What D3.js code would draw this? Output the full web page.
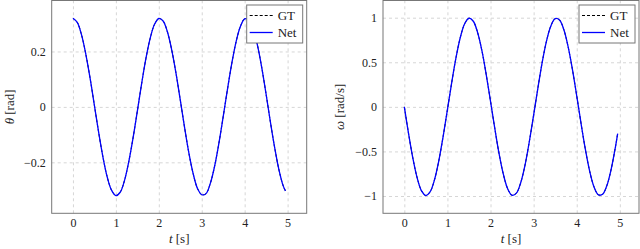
<!DOCTYPE html>
<html>
<head>
<meta charset="utf-8">
<script src="https://cdn.jsdelivr.net/npm/d3@7"></script>
<style>
  body { margin: 0; background: #fff; }
  svg { display: block; font-family: "Liberation Serif", "DejaVu Serif", serif; }
</style>
</head>
<body>
<div id="wrapper"></div>
<script>
// sample times [s]
const time = [
  0, 0.1, 0.2, 0.3, 0.4, 0.5, 0.6, 0.7, 0.8, 0.9,
  1.0, 1.1, 1.2, 1.3, 1.4, 1.5, 1.6, 1.7, 1.8, 1.9,
  2.0, 2.1, 2.2, 2.3, 2.4, 2.5, 2.6, 2.7, 2.8, 2.9,
  3.0, 3.1, 3.2, 3.3, 3.4, 3.5, 3.6, 3.7, 3.8, 3.9,
  4.0, 4.1, 4.2, 4.3, 4.4, 4.5, 4.6, 4.7, 4.8, 4.9, 4.95,
];

// angle theta [rad]
const gtTheta = [
  0.320, 0.305, 0.260, 0.190, 0.103, 0.005, -0.093, -0.182, -0.254, -0.301,
  -0.320, -0.308, -0.266, -0.198, -0.112, -0.015, 0.084, 0.175, 0.248, 0.298,
  0.319, 0.310, 0.271, 0.206, 0.122, 0.025, -0.074, -0.166, -0.241, -0.294,
  -0.317, -0.313, -0.276, -0.214, -0.131, -0.035, 0.064, 0.157, 0.235, 0.290,
  0.318, 0.314, 0.281, 0.221, 0.140, 0.045, -0.055, -0.148, -0.228, -0.286, -0.303,
];
const netTheta = [
  0.320, 0.305, 0.260, 0.190, 0.103, 0.005, -0.093, -0.182, -0.254, -0.301,
  -0.320, -0.308, -0.266, -0.198, -0.112, -0.015, 0.084, 0.175, 0.248, 0.298,
  0.319, 0.310, 0.271, 0.206, 0.122, 0.025, -0.074, -0.166, -0.241, -0.294,
  -0.317, -0.313, -0.276, -0.214, -0.131, -0.035, 0.064, 0.157, 0.235, 0.290,
  0.318, 0.314, 0.281, 0.221, 0.140, 0.045, -0.055, -0.148, -0.228, -0.286, -0.303,
];

// angular velocity omega [rad/s]
const gtOmega = [
  0.000, -0.305, -0.580, -0.800, -0.943, -0.995, -0.952, -0.818, -0.605, -0.333,
  -0.031, 0.274, 0.554, 0.781, 0.932, 0.994, 0.960, 0.834, 0.630, 0.362,
  0.062, -0.245, -0.529, -0.761, -0.921, -0.992, -0.968, -0.851, -0.654, -0.390,
  -0.093, 0.214, 0.503, 0.741, 0.908, 0.989, 0.975, 0.867, 0.675, 0.420,
  0.124, -0.185, -0.475, -0.720, -0.896, -0.986, -0.981, -0.882, -0.698, -0.445, -0.300,
];
const netOmega = [
  0.000, -0.305, -0.580, -0.800, -0.943, -0.995, -0.952, -0.818, -0.605, -0.333,
  -0.031, 0.274, 0.554, 0.781, 0.932, 0.994, 0.960, 0.834, 0.630, 0.362,
  0.062, -0.245, -0.529, -0.761, -0.921, -0.992, -0.968, -0.851, -0.654, -0.390,
  -0.093, 0.214, 0.503, 0.741, 0.908, 0.989, 0.975, 0.867, 0.675, 0.420,
  0.124, -0.185, -0.475, -0.720, -0.896, -0.986, -0.981, -0.882, -0.698, -0.445, -0.300,
];

const xTicks = [0, 1, 2, 3, 4, 5];
const thetaTicks = [-0.2, 0, 0.2];
const omegaTicks = [-1, -0.5, 0, 0.5, 1];
const legendLabels = ["GT", "Net"];

const width = 640;
const height = 249;
const tickFont = 12;
const labelFont = 13;

const svg = d3
  .select("#wrapper")
  .append("svg")
  .attr("width", width)
  .attr("height", height);

// pgfplots style: 10% padding around data range
function enlarge([lo, hi]) {
  const pad = (hi - lo) * 0.1;
  return [lo - pad, hi + pad];
}

function drawPanel({ frame, gt, net, yTicks, symbol, unit, labelX }) {
  const g = svg.append("g");

  const x = d3
    .scaleLinear()
    .domain(enlarge(d3.extent(time)))
    .range([frame.left, frame.right]);
  const y = d3
    .scaleLinear()
    .domain(enlarge(d3.extent(gt.concat(net))))
    .range([frame.bottom, frame.top]);

  const plotH = frame.bottom - frame.top;
  const plotW = frame.right - frame.left;

  const clean = (a) =>
    a.attr("font-family", null).attr("font-size", null).call((s) => s.select(".domain").remove());

  // grid
  g.append("g")
    .attr("transform", `translate(0,${frame.bottom})`)
    .call(d3.axisBottom(x).tickValues(xTicks).tickSize(-plotH).tickFormat(""))
    .call(clean)
    .selectAll("line")
    .attr("stroke", "#d6d6d6")
    .attr("stroke-dasharray", "3,3");
  g.append("g")
    .attr("transform", `translate(${frame.left},0)`)
    .call(d3.axisLeft(y).tickValues(yTicks).tickSize(-plotW).tickFormat(""))
    .call(clean)
    .selectAll("line")
    .attr("stroke", "#d6d6d6")
    .attr("stroke-dasharray", "3,3");

  // tick labels
  g.append("g")
    .attr("transform", `translate(0,${frame.bottom})`)
    .call(d3.axisBottom(x).tickValues(xTicks).tickSize(0).tickPadding(5).tickFormat(d3.format("~g")))
    .call(clean)
    .selectAll("text")
    .attr("font-size", tickFont)
    .attr("fill", "#222");
  g.append("g")
    .attr("transform", `translate(${frame.left},0)`)
    .call(d3.axisLeft(y).tickValues(yTicks).tickSize(0).tickPadding(6).tickFormat(d3.format("~g")))
    .call(clean)
    .selectAll("text")
    .attr("font-size", tickFont)
    .attr("fill", "#222");

  // curves
  const line = (vals) =>
    d3
      .line()
      .x((_, i) => x(time[i]))
      .y((d) => y(d))
      .curve(d3.curveCatmullRom.alpha(0.5))(vals);

  g.append("path")
    .attr("d", line(gt))
    .attr("fill", "none")
    .attr("stroke", "#000")
    .attr("stroke-width", 1)
    .attr("stroke-dasharray", "3,2");
  g.append("path")
    .attr("d", line(net))
    .attr("fill", "none")
    .attr("stroke", "#0000ff")
    .attr("stroke-width", 1.3);

  // frame
  g.append("rect")
    .attr("x", frame.left)
    .attr("y", frame.top)
    .attr("width", plotW)
    .attr("height", plotH)
    .attr("fill", "none")
    .attr("stroke", "#777")
    .attr("stroke-width", 1);

  // axis labels
  const xl = g
    .append("text")
    .attr("x", (frame.left + frame.right) / 2)
    .attr("y", 243)
    .attr("text-anchor", "middle")
    .attr("font-size", labelFont)
    .attr("fill", "#222");
  xl.append("tspan").attr("font-style", "italic").text("t");
  xl.append("tspan").text(" [s]");

  const yl = g
    .append("text")
    .attr("transform", `translate(${labelX},${(frame.top + frame.bottom) / 2}) rotate(-90)`)
    .attr("text-anchor", "middle")
    .attr("font-size", labelFont)
    .attr("fill", "#222");
  yl.append("tspan").attr("font-style", "italic").text(symbol);
  yl.append("tspan").text(` [${unit}]`);

  // legend
  const lw = 56;
  const lh = 38;
  const lx = frame.right - 4 - lw;
  const ly = frame.top + 4.5;
  const legend = g.append("g").attr("transform", `translate(${lx},${ly})`);
  legend
    .append("rect")
    .attr("width", lw)
    .attr("height", lh)
    .attr("fill", "#fff")
    .attr("stroke", "#777")
    .attr("stroke-width", 1);
  const styles = [
    { stroke: "#000", dash: "3,2", w: 1 },
    { stroke: "#0000ff", dash: null, w: 1.3 },
  ];
  legendLabels.forEach((label, i) => {
    const cy = 10.5 + i * 17;
    legend
      .append("line")
      .attr("x1", 3)
      .attr("x2", 26)
      .attr("y1", cy)
      .attr("y2", cy)
      .attr("stroke", styles[i].stroke)
      .attr("stroke-width", styles[i].w)
      .attr("stroke-dasharray", styles[i].dash);
    legend
      .append("text")
      .attr("x", 31)
      .attr("y", cy + 4.5)
      .attr("font-size", labelFont)
      .attr("fill", "#222")
      .text(label);
  });
}

drawPanel({
  frame: { left: 51.7, right: 306.7, top: 0.5, bottom: 213.3 },
  gt: gtTheta,
  net: netTheta,
  yTicks: thetaTicks,
  symbol: "θ",
  unit: "rad",
  labelX: 14,
});

drawPanel({
  frame: { left: 383, right: 639, top: 0.5, bottom: 213.3 },
  gt: gtOmega,
  net: netOmega,
  yTicks: omegaTicks,
  symbol: "ω",
  unit: "rad/s",
  labelX: 344,
});
</script>
</body>
</html>
